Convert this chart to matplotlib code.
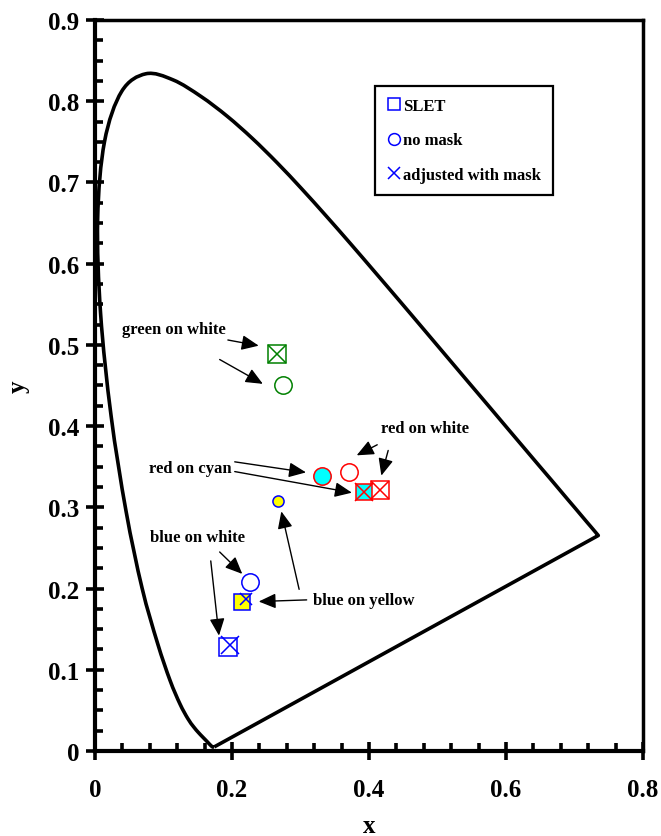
import matplotlib
matplotlib.use("Agg")
from matplotlib import pyplot as plt
from matplotlib.lines import Line2D
from matplotlib.path import Path
from matplotlib.patches import PathPatch
import numpy as np

# CIE 1931 spectral locus, 380-700 nm (x, y)
locus_x = [0.1741, 0.1740, 0.1738, 0.1736, 0.1733, 0.1730, 0.1726, 0.1721, 0.1714, 0.1703,
           0.1689, 0.1669, 0.1644, 0.1611, 0.1566, 0.1510, 0.1440, 0.1355, 0.1241, 0.1096,
           0.0913, 0.0687, 0.0454, 0.0235, 0.0082, 0.0039, 0.0139, 0.0389, 0.0743, 0.1142,
           0.1547, 0.1929, 0.2296, 0.2658, 0.3016, 0.3373, 0.3731, 0.4087, 0.4441, 0.4788,
           0.5125, 0.5448, 0.5752, 0.6029, 0.6270, 0.6482, 0.6658, 0.6801, 0.6915, 0.7006,
           0.7079, 0.7140, 0.7190, 0.7230, 0.7260, 0.7283, 0.7300, 0.7311, 0.7320, 0.7334,
           0.7344, 0.7347]
locus_y = [0.0050, 0.0050, 0.0049, 0.0049, 0.0048, 0.0048, 0.0048, 0.0048, 0.0051, 0.0058,
           0.0069, 0.0086, 0.0109, 0.0138, 0.0177, 0.0227, 0.0297, 0.0399, 0.0578, 0.0868,
           0.1327, 0.2007, 0.2950, 0.4127, 0.5384, 0.6548, 0.7502, 0.8120, 0.8338, 0.8262,
           0.8059, 0.7816, 0.7543, 0.7243, 0.6923, 0.6589, 0.6245, 0.5896, 0.5547, 0.5202,
           0.4866, 0.4544, 0.4242, 0.3965, 0.3725, 0.3514, 0.3340, 0.3197, 0.3083, 0.2993,
           0.2920, 0.2859, 0.2809, 0.2770, 0.2740, 0.2717, 0.2700, 0.2689, 0.2680, 0.2666,
           0.2656, 0.2653]

# samples: green on white, red on white, red on cyan, blue on white, blue on yellow
sample_names = ["green on white", "red on white", "red on cyan", "blue on white", "blue on yellow"]
edge_colors = ["#008000", "#FF0000", "#FF0000", "#0000FF", "#0000FF"]
face_colors = ["none", "none", "#00FFFF", "none", "#FFFF00"]

slet_x = [0.265, 0.416, 0.393, 0.194, 0.215]
slet_y = [0.489, 0.321, 0.319, 0.128, 0.184]
nomask_x = [0.274, 0.371, 0.331, 0.226, 0.267]
nomask_y = [0.450, 0.343, 0.338, 0.208, 0.308]
masked_x = [0.265, 0.416, 0.393, 0.197, 0.220]
masked_y = [0.489, 0.321, 0.319, 0.131, 0.187]

plt.rcParams["font.family"] = ["Liberation Serif", "DejaVu Serif"]
plt.rcParams["font.weight"] = "bold"

fig = plt.figure(figsize=(6.61, 8.37), dpi=100)
ax = fig.add_axes([0.1437, 0.1016, 0.8291, 0.8733])


# smooth line through the locus points (like a spreadsheet "smoothed line")
def smooth_path(xs, ys):
    pts = np.column_stack([xs, ys])
    ext = np.vstack([pts[0], pts, pts[-1]])
    verts = [pts[0]]
    codes = [Path.MOVETO]
    for i in range(1, len(ext) - 2):
        p0, p1, p2, p3 = ext[i - 1], ext[i], ext[i + 1], ext[i + 2]
        verts += [p1 + (p2 - p0) / 6, p2 - (p3 - p1) / 6, p2]
        codes += [Path.CURVE4] * 3
    # purple line back to the start
    verts.append(pts[0])
    codes.append(Path.LINETO)
    return Path(verts, codes)


ax.add_patch(PathPatch(smooth_path(locus_x, locus_y), facecolor="none",
                       edgecolor="black", lw=2.6, joinstyle="round", zorder=2))

ms_big = 12.5
for i in range(len(sample_names)):
    ec, fc = edge_colors[i], face_colors[i]
    ax.plot(slet_x[i], slet_y[i], marker="s", ms=11.8 if fc != "none" else ms_big,
            mec=ec, mfc=fc, mew=1.1, ls="none", zorder=3)
    circ_size = 8 if sample_names[i] == "blue on yellow" else ms_big
    ax.plot(nomask_x[i], nomask_y[i], marker="o", ms=circ_size,
            mec=ec, mfc=fc, mew=1.1, ls="none", zorder=3)
    x_size = 8.5 if sample_names[i] == "blue on yellow" else ms_big
    ax.plot(masked_x[i], masked_y[i], marker="x", ms=x_size,
            mec=ec, mew=1.1, ls="none", zorder=4)

# labels and arrows
txt = dict(fontsize=12, fontweight="bold", ha="center", va="center")
ax.text(0.115, 0.520, "green on white", **txt)
ax.text(0.482, 0.398, "red on white", **txt)
ax.text(0.139, 0.348, "red on cyan", **txt)
ax.text(0.150, 0.263, "blue on white", **txt)
ax.text(0.393, 0.186, "blue on yellow", **txt)

arrows = [
    ((0.194, 0.506), (0.239, 0.499)),
    ((0.182, 0.482), (0.245, 0.452)),
    ((0.412, 0.377), (0.382, 0.364)),
    ((0.428, 0.370), (0.418, 0.339)),
    ((0.204, 0.356), (0.308, 0.343)),
    ((0.204, 0.344), (0.375, 0.318)),
    ((0.182, 0.245), (0.215, 0.218)),
    ((0.169, 0.234), (0.181, 0.142)),
    ((0.309, 0.186), (0.239, 0.184)),
    ((0.298, 0.199), (0.272, 0.295)),
]
for start, tip in arrows:
    ax.annotate("", xy=tip, xytext=start,
                arrowprops=dict(arrowstyle="-|>,head_length=0.8,head_width=0.35",
                                color="black", lw=1.0, shrinkA=0, shrinkB=0,
                                mutation_scale=13))

# legend
handles = [
    Line2D([], [], marker="s", ms=8.5, mec="#0000FF", mfc="none", mew=1.1, ls="none"),
    Line2D([], [], marker="o", ms=8.5, mec="#0000FF", mfc="none", mew=1.1, ls="none"),
    Line2D([], [], marker="x", ms=8.5, mec="#0000FF", mew=1.1, ls="none"),
]
leg = ax.legend(handles, ["SLET", "no mask", "adjusted with mask"],
                loc="upper left", bbox_to_anchor=(0.511, 0.910), borderaxespad=0,
                prop=dict(family="Liberation Serif", weight="bold", size=12),
                handlelength=0.8, handletextpad=0.15, borderpad=0.72,
                labelspacing=1.12, fancybox=False, framealpha=1)
leg.get_frame().set_edgecolor("black")
leg.get_frame().set_linewidth(1.6)

ax.set_xlim(0, 0.8)
ax.set_ylim(0, 0.9)
ax.set_xticks([0, 0.2, 0.4, 0.6, 0.8])
ax.set_xticklabels(["0", "0.2", "0.4", "0.6", "0.8"])
ax.set_yticks(np.arange(10) / 10)
ax.set_yticklabels(["0", "0.1", "0.2", "0.3", "0.4", "0.5", "0.6", "0.7", "0.8", "0.9"])
ax.set_xticks(np.arange(0, 0.81, 0.04), minor=True)
ax.set_yticks(np.arange(0, 0.91, 0.025), minor=True)

ax.tick_params(which="major", direction="inout", length=13, width=2.6)
ax.tick_params(which="minor", direction="in", length=6, width=2.6)
ax.tick_params(axis="x", which="major", labelsize=18, pad=13)
ax.tick_params(axis="y", which="major", labelsize=18, pad=5)
for lab in ax.get_xticklabels() + ax.get_yticklabels():
    lab.set_fontweight("bold")

for side in ["left", "bottom"]:
    ax.spines[side].set_linewidth(3)
for side in ["top", "right"]:
    ax.spines[side].set_linewidth(2.5)

ax.set_xlabel("x", fontsize=18, fontweight="bold", labelpad=9)
ax.set_ylabel("y", fontsize=18, fontweight="bold", labelpad=13)

fig.savefig("out.png", dpi=100)
